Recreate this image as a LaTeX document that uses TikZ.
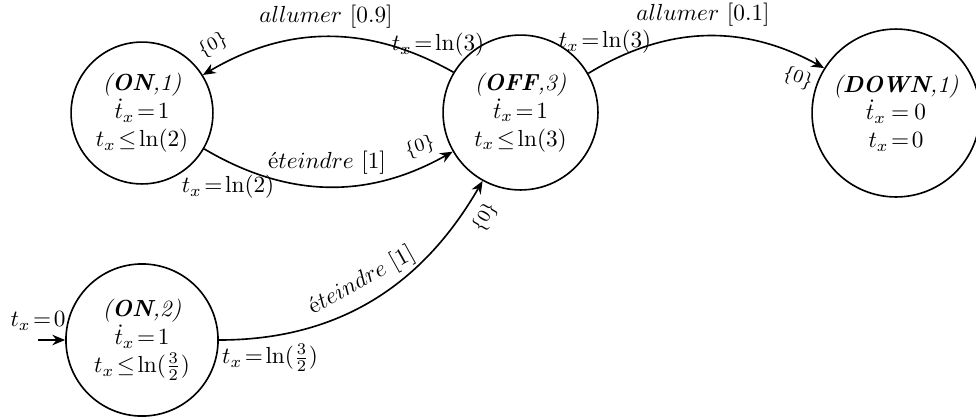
\documentclass[tikz,border=0pt]{standalone}
\usepackage{fontspec}
\usetikzlibrary{arrows.meta}
\thickmuskip=2mu plus 1mu
\begin{document}
\begin{tikzpicture}[x=0.43pt,y=-0.43pt,
  state/.style={circle,draw,line width=0.7pt,inner sep=0pt,align=center},
  edge/.style={line width=0.7pt,-{Stealth[length=5.5pt,width=4.5pt]}},
  zero/.style={font=\footnotesize,inner sep=0pt},
  lbl/.style={inner sep=0pt}]
\useasboundingbox (0,0) rectangle (976,417);
\node[state,minimum size=61pt] (on1) at (142,113) {\textit{(\textbf{ON},1)}\\$\dot{t}_x =1$\\$t_x \leq \ln(2)$};
\node[state,minimum size=66.6pt] (off) at (520.5,112.5) {\textit{(\textbf{OFF},3)}\\$\dot{t}_x =1$\\$t_x \leq \ln(3)$};
\node[state,minimum size=72.2pt] (down) at (896,113) {\textit{(\textbf{DOWN},1)}\\$\dot{t}_x \;=\; 0$\\$t_x =0$};
\node[state,minimum size=65.4pt] (on2) at (142,340) {\textit{(\textbf{ON},2)}\\$\dot{t}_x =1$\\$t_x \leq \ln(\frac{3}{2})$};

\draw[edge] (off.149) to[bend right=30] (on1.32);
\draw[edge] (on1.-30) to[bend right=30] (off.210);
\draw[edge] (off.30) to[bend left=30] (down.148);
\draw[edge] (on2.east) to[out=0,in=-120] (off.241);
\coordinate (init) at (38,340);
\draw[edge] (init) -- (on2);

\node[lbl] (l1) at (326,17) {$allumer$ [0.9]};
\node[lbl] (l2) at (438,45) {$t_x = \ln(3)$};
\node[zero,rotate=28] (z1) at (213,45) {$\{0\}$};
\node[lbl] (l3) at (327,163) {é$teindre$ [1]};
\node[lbl] (l4) at (228,187) {$t_x = \ln(2)$};
\node[zero,rotate=18] (z2) at (420,147) {$\{0\}$};
\node[lbl] (l5) at (703,15) {$allumer$ [0.1]};
\node[lbl] (l6) at (605,42) {$t_x = \ln(3)$};
\node[zero,rotate=-20] (z3) at (798,78) {$\{0\}$};
\node[lbl,rotate=29] (l7) at (362,281) {é$teindre$ [1]};
\node[lbl] (l8) at (270,358) {$t_x = \ln(\frac{3}{2})$};
\node[zero,rotate=60] (z4) at (485,217) {$\{0\}$};
\node[lbl] (l9) at (38,321) {$t_x =0$};
\end{tikzpicture}
\end{document}
